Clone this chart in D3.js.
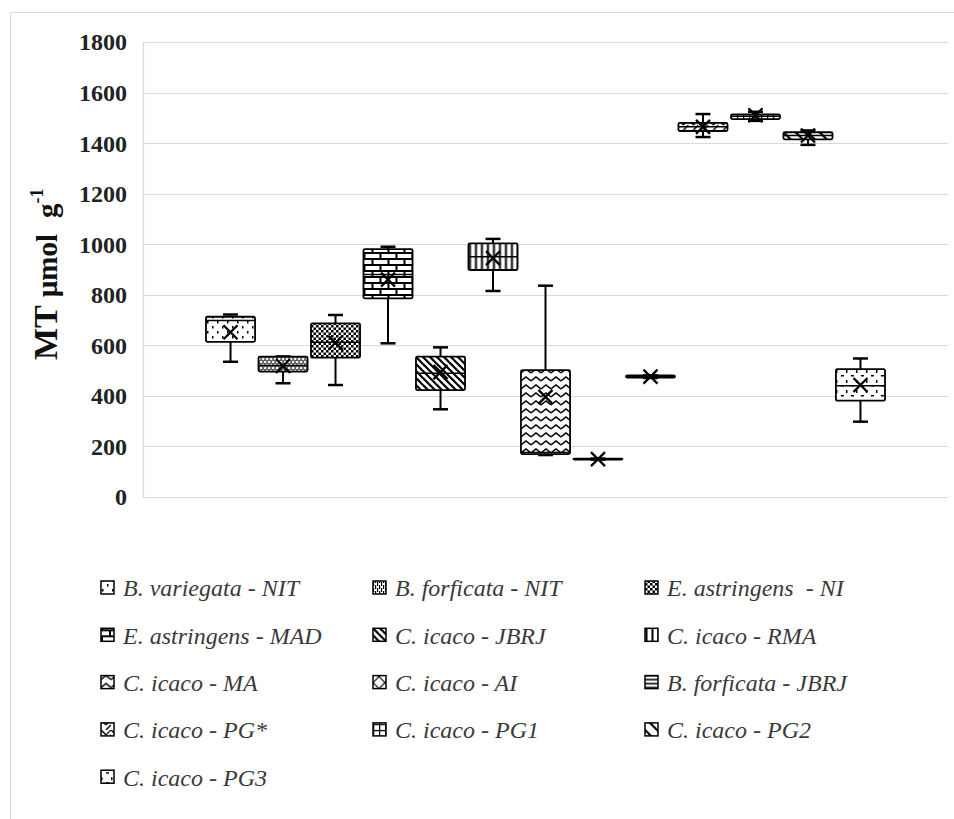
<!DOCTYPE html>
<html lang="en">
<head>
<meta charset="utf-8">
<script src="https://d3js.org/d3.v7.min.js"></script>
<style>
  body { margin: 0; background: #fff; }
  text { white-space: pre; }
</style>
</head>
<body>
<script>
// series (one category, 13 box plots)
const series = ["B. variegata - NIT", "B. forficata - NIT", "E. astringens  - NI",
  "E. astringens - MAD", "C. icaco - JBRJ", "C. icaco - RMA",
  "C. icaco - MA", "C. icaco - AI", "B. forficata - JBRJ",
  "C. icaco - PG*", "C. icaco - PG1", "C. icaco - PG2", "C. icaco - PG3"];
const whiskerLow  = [535, 450, 443, 608, 347, 815, 166, 148, 471, 1424, 1488, 1393, 298];
const q1          = [614, 496, 551, 786, 423, 898, 170, 148, 472, 1448, 1495, 1415, 381];
const median      = [698, 520, 612, 880, 490, 950, 176, 150, 476, 1465, 1506, 1430, 440];
const q3          = [713, 555, 687, 981, 555, 1003, 502, 152, 481, 1480, 1514, 1443, 506];
const whiskerHigh = [722, 556, 720, 990, 592, 1021, 836, 152, 481, 1515, 1524, 1450, 548];
const means       = [652, 518, 610, 860, 494, 945, 396, 150, 476, 1464, 1510, 1430, 443];
const yTicks = [0, 200, 400, 600, 800, 1000, 1200, 1400, 1600, 1800];

const W = 954, H = 819;
const svg = d3.select("body").append("svg")
  .attr("width", W).attr("height", H)
  .style("font-family", "'Liberation Serif', 'Times New Roman', serif");

svg.append("rect").attr("width", W).attr("height", H).attr("fill", "#fff");
// chart border
svg.append("rect").attr("x", 10.5).attr("y", 12.5).attr("width", W).attr("height", H)
  .attr("fill", "none").attr("stroke", "#d9d9d9");

// fill patterns, one per series
const defs = svg.append("defs");
function pat(id, w, h, draw) {
  const p = defs.append("pattern").attr("id", id)
    .attr("patternUnits", "userSpaceOnUse").attr("width", w).attr("height", h);
  p.append("rect").attr("width", w).attr("height", h).attr("fill", "#fff");
  draw(p);
}
function ln(p, x1, y1, x2, y2, sw) {
  p.append("line").attr("x1", x1).attr("y1", y1).attr("x2", x2).attr("y2", y2)
    .attr("stroke", "#000").attr("stroke-width", sw);
}
function sq(p, x, y, w, h) {
  p.append("rect").attr("x", x).attr("y", y).attr("width", w).attr("height", h).attr("fill", "#000");
}
pat("p0", 10, 10, p => { sq(p, 1, 1, 1.5, 2.5); sq(p, 6, 6, 1.5, 2.5); });
pat("p1", 4, 6, p => { sq(p, 0, 0, 1.2, 4); sq(p, 2, 3, 1.2, 4); sq(p, 2, -3, 1.2, 4); });
pat("p2", 5, 5, p => { sq(p, 0, 0, 2.5, 2.5); sq(p, 2.5, 2.5, 2.5, 2.5); });
pat("p3", 16, 12, p => { ln(p, 0, 1, 16, 1, 2); ln(p, 0, 7, 16, 7, 2); ln(p, 1, 1, 1, 7, 2); ln(p, 9, 7, 9, 13, 2); });
pat("p4", 7, 7, p => { ln(p, -1, -1, 8, 8, 2.2); ln(p, -1, 6, 1, 8, 2.2); ln(p, 6, -1, 8, 1, 2.2); });
pat("p5", 6, 6, p => { ln(p, 1.5, 0, 1.5, 6, 2); });
pat("p6", 10, 8, p => { p.append("polyline").attr("points", "0,5 5,1 10,5").attr("fill", "none").attr("stroke", "#000").attr("stroke-width", 1.6); });
pat("p7", 12, 12, p => { ln(p, 0, 0, 12, 12, 1.2); ln(p, 0, 12, 12, 0, 1.2); });
pat("p8", 4, 4, p => { ln(p, 0, 1, 4, 1, 1.6); });
pat("p9", 10, 10, p => { ln(p, 0, 0, 5, 5, 1.5); ln(p, 5, 10, 10, 5, 1.5); ln(p, 5, 5, 10, 0, 1.2); });
pat("p10", 6, 6, p => { ln(p, 0, 0.5, 6, 0.5, 1.5); ln(p, 0.5, 0, 0.5, 6, 1.5); });
pat("p11", 12, 12, p => { ln(p, -1, -1, 13, 13, 2.2); ln(p, -1, 11, 1, 13, 2.2); ln(p, 11, -1, 13, 1, 2.2); });
pat("p12", 10, 10, p => { sq(p, 0, 0, 1.5, 3); sq(p, 5, 5, 3, 1.5); });

// scales
const plotLeft = 143, plotRight = 948;
const y = d3.scaleLinear().domain([0, 1800]).range([497, 42]);
const x = d3.scaleBand().domain(series).range([plotLeft, plotRight])
  .paddingInner(0.065).paddingOuter(1.2);

// gridlines
svg.append("g").selectAll("line").data(yTicks).enter().append("line")
  .attr("x1", plotLeft).attr("x2", plotRight)
  .attr("y1", d => Math.round(y(d)) + 0.5).attr("y2", d => Math.round(y(d)) + 0.5)
  .attr("stroke", "#d9d9d9").attr("stroke-width", 1.2);
svg.append("line").attr("x1", plotLeft + 0.5).attr("x2", plotLeft + 0.5)
  .attr("y1", y(1800)).attr("y2", y(0)).attr("stroke", "#d9d9d9").attr("stroke-width", 1.2);

// y axis labels
const yAxis = svg.append("g").attr("transform", "translate(" + (plotLeft - 16) + ",0)")
  .call(d3.axisLeft(y).tickValues(yTicks).tickFormat(d3.format("d")).tickSize(0).tickPadding(0));
yAxis.select(".domain").remove();
yAxis.selectAll("text")
  .attr("font-family", "'Liberation Serif', serif")
  .attr("font-weight", "bold").attr("font-size", 24).attr("fill", "#222")
  .attr("dy", "0.33em");

// y axis title
const title = svg.append("text")
  .attr("transform", "translate(57,360) rotate(-90)")
  .attr("font-weight", "bold").attr("fill", "#111");
title.append("tspan").attr("font-size", 34).text("MT ");
title.append("tspan").attr("font-size", 29).text("µmol");
title.append("tspan").attr("font-size", 29).attr("dx", 16).text("g");
title.append("tspan").attr("font-size", 18).attr("dy", -14).text("-1");

// boxes
const idx = d3.range(series.length);
const g = svg.append("g").selectAll("g").data(idx).enter().append("g")
  .attr("transform", i => "translate(" + x(series[i]) + ",0)");
const bw = x.bandwidth();

g.append("line").attr("x1", bw / 2).attr("x2", bw / 2)
  .attr("y1", i => y(whiskerHigh[i])).attr("y2", i => y(q3[i]))
  .attr("stroke", "#000").attr("stroke-width", 2);
g.append("line").attr("x1", bw / 2).attr("x2", bw / 2)
  .attr("y1", i => y(q1[i])).attr("y2", i => y(whiskerLow[i]))
  .attr("stroke", "#000").attr("stroke-width", 2);
g.append("line").attr("x1", bw / 2 - 7.5).attr("x2", bw / 2 + 7.5)
  .attr("y1", i => y(whiskerHigh[i])).attr("y2", i => y(whiskerHigh[i]))
  .attr("stroke", "#000").attr("stroke-width", 2.5);
g.append("line").attr("x1", bw / 2 - 7.5).attr("x2", bw / 2 + 7.5)
  .attr("y1", i => y(whiskerLow[i])).attr("y2", i => y(whiskerLow[i]))
  .attr("stroke", "#000").attr("stroke-width", 2.5);

g.append("rect").attr("x", 0).attr("width", bw)
  .attr("y", i => y(q3[i]))
  .attr("height", i => Math.max(0.5, y(q1[i]) - y(q3[i])))
  .attr("rx", 1.5)
  .attr("fill", i => "url(#p" + i + ")")
  .attr("stroke", "#000").attr("stroke-width", 1.8);

g.append("line").attr("x1", 0).attr("x2", bw)
  .attr("y1", i => y(median[i])).attr("y2", i => y(median[i]))
  .attr("stroke", "#000").attr("stroke-width", 1.5);

g.append("path")
  .attr("transform", i => "translate(" + bw / 2 + "," + y(means[i]) + ")")
  .attr("d", "M-7,-7L7,7M-7,7L7,-7")
  .attr("stroke", "#000").attr("stroke-width", 2.3).attr("fill", "none");

// legend
const legCols = 3, colW = 272, legX = 101, legY = 588, rowH = 47.3;
const lg = svg.append("g").selectAll("g").data(idx).enter().append("g")
  .attr("transform", i => "translate(" + (legX + (i % legCols) * colW) + "," + (legY + Math.floor(i / legCols) * rowH) + ")");
lg.append("rect").attr("x", 0).attr("y", -7).attr("width", 13).attr("height", 13)
  .attr("fill", i => "url(#p" + i + ")").attr("stroke", "#000").attr("stroke-width", 1.5);
lg.append("text").attr("x", 22).attr("dy", "0.35em")
  .attr("font-style", "italic").attr("font-size", 24).attr("fill", "#3a3a3a")
  .text(i => series[i]);
</script>
</body>
</html>
